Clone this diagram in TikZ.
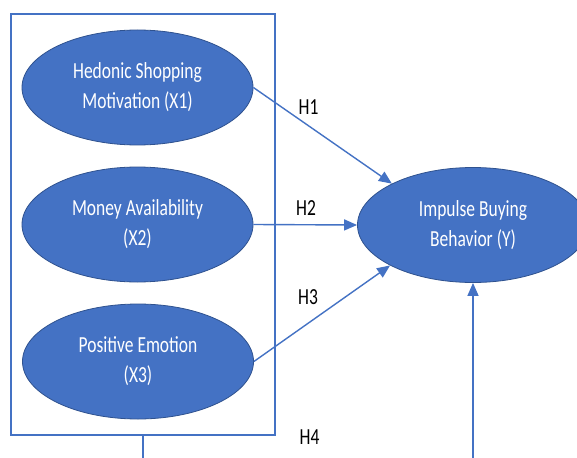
\documentclass[tikz,border=0pt]{standalone}
\usepackage{fontspec}
\usepackage{graphicx}
\setmainfont{Carlito}
\usetikzlibrary{shapes.geometric,arrows.meta}
\definecolor{fillb}{HTML}{4472C4}
\definecolor{edgeb}{HTML}{2F528F}
\definecolor{lineb}{HTML}{4472C4}
\newcommand{\sq}[1]{\scalebox{0.76}[1]{#1}}
\begin{document}
\begin{tikzpicture}[x=1pt,y=-1pt,
  var/.style={ellipse,draw=edgeb,line width=0.8pt,fill=fillb,text=white,
    minimum width=231pt,minimum height=115pt,inner sep=0pt,align=center,
    font=\fontsize{23}{30}\selectfont},
  hlab/.style={text=black,inner sep=0pt,font=\fontsize{23}{30}\selectfont},
  conn/.style={draw=lineb,line width=1.4pt,-{Triangle[length=13pt,width=11pt]}},
  frame/.style={draw=lineb,line width=1.2pt}]
\useasboundingbox (0,0) rectangle (577,457);
\fill[white] (0,0) rectangle (577,457);
\node[frame,minimum width=264pt,minimum height=421pt,inner sep=0pt] (box) at (143,224.5) {};
\node[var] (x1) at (137.5,87.5) {\sq{Hedonic Shopping}\\\sq{Motivation (X1)}};
\node[var] (x2) at (137.5,224.5) {\sq{Money Availability}\\\sq{(X2)}};
\node[var] (x3) at (138,361.5) {\sq{Positive Emotion}\\\sq{(X3)}};
\node[var] (y) at (473,225) {\sq{Impulse Buying}\\\sq{Behavior (Y)}};
\coordinate (bl) at (143,460);
\coordinate (br) at (473,460);
\draw[conn] (x1.east) -- (y.153);
\draw[conn] (x2.east) -- (y.west);
\draw[conn] (x3.east) -- (y.206);
\draw[conn] (br) -- (y.south);
\draw[frame] (box.south) -- (bl);
\node[hlab] (h1) at (308.5,107.5) {\sq{H1}};
\node[hlab] (h2) at (306,208.5) {\sq{H2}};
\node[hlab] (h3) at (308,297) {\sq{H3}};
\node[hlab] (h4) at (309.5,437) {\sq{H4}};
\end{tikzpicture}
\end{document}
